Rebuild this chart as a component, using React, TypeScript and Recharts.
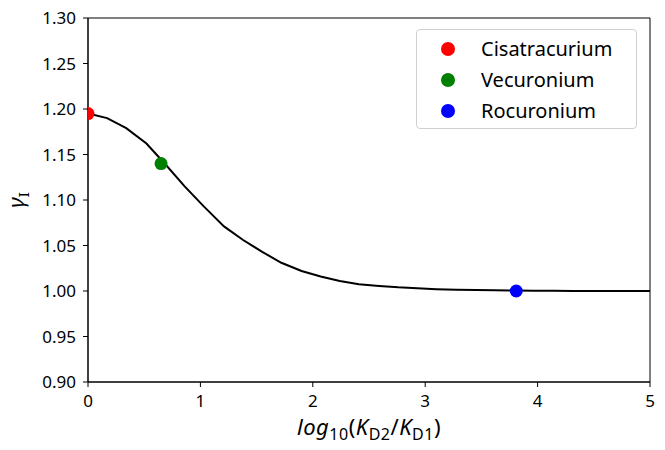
import {
  ComposedChart,
  Legend,
  Line,
  ReferenceArea,
  Scatter,
  XAxis,
  YAxis,
} from 'recharts';

// gamma_I curve
const curveX = [
  0, 0.17, 0.34, 0.52, 0.69, 0.86, 1.03, 1.21, 1.38, 1.55, 1.72, 1.9, 2.07, 2.24, 2.41,
  2.59, 2.76, 2.93, 3.1, 3.28, 3.45, 3.62, 3.79, 3.97, 4.14, 4.31, 4.48, 4.66, 4.83, 5,
];
const curveY = [
  1.195, 1.19, 1.179, 1.162, 1.139, 1.115, 1.093, 1.071, 1.056, 1.043, 1.031, 1.022, 1.016,
  1.011, 1.0075, 1.0055, 1.004, 1.003, 1.002, 1.0014, 1.001, 1.0007, 1.0005, 1.0003,
  1.0002, 1.0001, 1.0001, 1, 1, 1,
];

const drugNames = ['Cisatracurium', 'Vecuronium', 'Rocuronium'];
const drugX = [0, 0.65, 3.81];
const drugY = [1.195, 1.14, 1.0];
const drugColors = ['#ff0000', '#008000', '#0000ff'];

const xTicks = [0, 1, 2, 3, 4, 5];
const yTicks = [0.9, 0.95, 1.0, 1.05, 1.1, 1.15, 1.2, 1.25, 1.3];

const FONT = '"Noto Sans", sans-serif';

// layout
const W = 665;
const H = 450;
const MARGIN = { top: 18, right: 15, bottom: 0, left: 0 };
const Y_AXIS_W = 88;
const X_AXIS_H = 68;
const PLOT_LEFT = MARGIN.left + Y_AXIS_W;
const DOT_R = 6.5;

const curve = curveX.map((x, i) => ({ x, y: curveY[i] }));
const drugs = drugNames.map((name, i) => ({
  name,
  color: drugColors[i],
  data: [{ x: drugX[i], y: drugY[i] }],
}));

function DrugLegend() {
  return (
    <div
      style={{
        width: 221,
        height: 100,
        boxSizing: 'border-box',
        border: '1px solid #d0d0d0',
        borderRadius: 4,
        background: 'rgba(255,255,255,0.8)',
        paddingTop: 3,
        fontFamily: FONT,
      }}
    >
      {drugs.map((d) => (
        <div key={d.name} style={{ display: 'flex', alignItems: 'center', height: 31 }}>
          <span
            style={{
              width: 14,
              height: 14,
              borderRadius: 7,
              background: d.color,
              marginLeft: 24,
              marginRight: 26,
            }}
          />
          <span style={{ fontSize: 20, color: '#000' }}>{d.name}</span>
        </div>
      ))}
    </div>
  );
}

// matplotlib clips markers to the axes box; cut the disc at the left spine
function ClippedDot({ cx, cy, fill }: any) {
  const r = DOT_R;
  if (cx - r >= PLOT_LEFT) return <circle cx={cx} cy={cy} r={r} fill={fill} />;
  const off = PLOT_LEFT - cx;
  const dy = Math.sqrt(Math.max(r * r - off * off, 0));
  const large = cx > PLOT_LEFT ? 1 : 0;
  const d = `M${PLOT_LEFT},${cy - dy} A${r},${r} 0 ${large} 1 ${PLOT_LEFT},${cy + dy} Z`;
  return <path d={d} fill={fill} />;
}

function YLabel({ viewBox }: any) {
  const x = viewBox.x + 24;
  const y = viewBox.y + viewBox.height / 2;
  return (
    <text
      x={x}
      y={y}
      transform={`rotate(-90, ${x}, ${y})`}
      textAnchor="middle"
      fontFamily={FONT}
      fontSize={22}
      fill="#000"
    >
      <tspan fontStyle="italic">γ</tspan>
      <tspan dy={5} fontSize={15}>I</tspan>
    </text>
  );
}

function XLabel({ viewBox }: any) {
  const x = viewBox.x + viewBox.width / 2;
  const y = viewBox.y + 53;
  return (
    <text x={x} y={y} textAnchor="middle" fontFamily={FONT} fontSize={22} fill="#000" letterSpacing={0.5}>
      <tspan fontStyle="italic">log</tspan>
      <tspan dy={5} fontSize={16}>10</tspan>
      <tspan dy={-5}>(</tspan>
      <tspan fontStyle="italic">K</tspan>
      <tspan dy={5} fontSize={16}>D2</tspan>
      <tspan dy={-5}>/</tspan>
      <tspan fontStyle="italic">K</tspan>
      <tspan dy={5} fontSize={16}>D1</tspan>
      <tspan dy={-5}>)</tspan>
    </text>
  );
}

const tickStyle = { fill: '#000', fontSize: 17, fontFamily: FONT };

export default function App() {
  return (
    <div style={{ position: 'absolute', left: 0, top: 0, background: '#fff' }}>
      <ComposedChart width={W} height={H} margin={MARGIN}>
        <XAxis
          type="number"
          dataKey="x"
          domain={[0, 5]}
          ticks={xTicks}
          allowDataOverflow
          height={X_AXIS_H}
          tick={tickStyle}
          tickSize={5}
          tickMargin={8}
          stroke="#000"
          label={<XLabel />}
        />
        <YAxis
          type="number"
          dataKey="y"
          domain={[0.9, 1.3]}
          ticks={yTicks}
          allowDataOverflow
          width={Y_AXIS_W}
          tick={tickStyle}
          tickSize={5}
          tickMargin={7}
          tickFormatter={(v: number) => v.toFixed(2)}
          stroke="#000"
          label={<YLabel />}
        />
        {drugs.map((d) => (
          <Scatter
            key={d.name}
            name={d.name}
            data={d.data}
            dataKey="y"
            fill={d.color}
            isAnimationActive={false}
            shape={(p: any) => <ClippedDot cx={p.cx} cy={p.cy} fill={d.color} />}
          />
        ))}
        <Line
          data={curve}
          dataKey="y"
          type="linear"
          stroke="#000"
          strokeWidth={2}
          dot={false}
          activeDot={false}
          isAnimationActive={false}
        />
        <ReferenceArea x1={0} x2={5} y1={0.9} y2={1.3} fill="none" stroke="#000" />
        <Legend
          layout="horizontal"
          verticalAlign="middle"
          align="center"
          content={<DrugLegend />}
          wrapperStyle={{ top: 29, left: 416, width: 221 }}
        />
      </ComposedChart>
    </div>
  );
}
